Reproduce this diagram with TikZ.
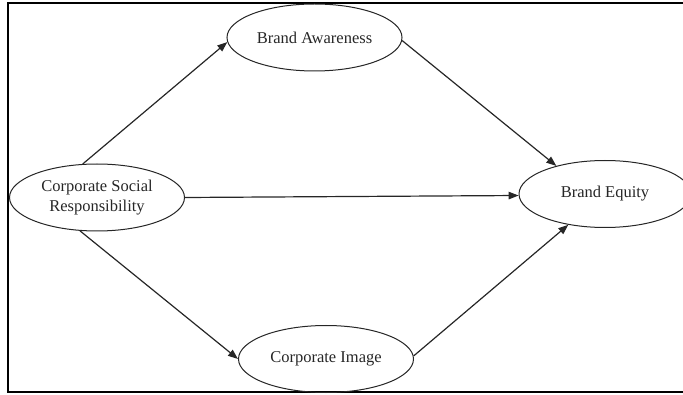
\documentclass[tikz,border=0pt]{standalone}
\usepackage{fontspec}
\setmainfont{Liberation Serif}
\usetikzlibrary{shapes.geometric,arrows.meta}
\begin{document}
\begin{tikzpicture}[x=1pt,y=-1pt,
  construct/.style={ellipse,draw=black!85,line width=1pt,minimum width=175pt,minimum height=67pt,inner sep=0pt,align=center,font=\fontsize{16.5}{19.5}\selectfont,text=black!85},
  link/.style={draw=black!85,line width=1.2pt,-{Triangle[length=10pt,width=7.5pt]}}]
\useasboundingbox (0,0) rectangle (683,395);
\draw[line width=2pt] (683,3) -- (8,3) -- (8,392) -- (683,392);
\node[construct] (ba) at (314.5,37.5) {Brand Awareness};
\node[construct] (csr) at (97,197.5) {Corporate Social\\Responsibility};
\node[construct,minimum width=172pt] (be) at (605,194) {Brand Equity};
\node[construct] (ci) at (326,359) {Corporate Image};
\draw[link] (csr.113) -- (ba.183);
\draw[link] (ba.358) -- (be.150);
\draw[link] (csr.east) -- (be.181);
\draw[link] (csr.243) -- (ci.west);
\draw[link] (ci.2) -- (be.220);
\end{tikzpicture}
\end{document}
